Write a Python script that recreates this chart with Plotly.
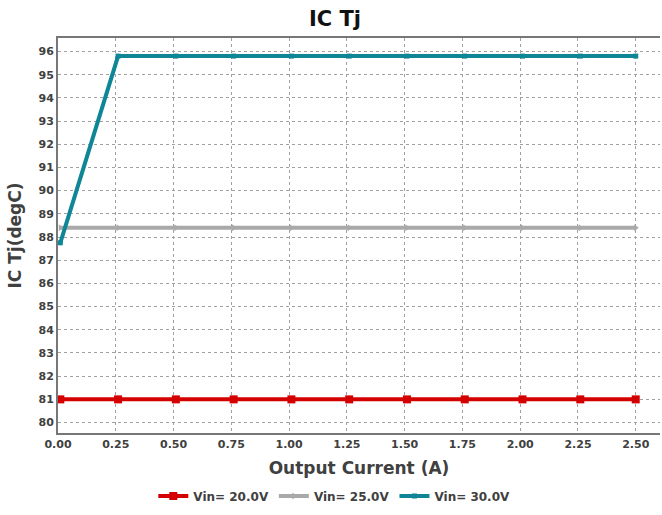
import plotly.graph_objects as go

# output current (A)
current = [0.01, 0.26, 0.51, 0.76, 1.01, 1.26, 1.51, 1.76, 2.01, 2.26, 2.50]
tj_20v = [81.0, 81.0, 81.0, 81.0, 81.0, 81.0, 81.0, 81.0, 81.0, 81.0, 81.0]
tj_25v = [88.4, 88.4, 88.4, 88.4, 88.4, 88.4, 88.4, 88.4, 88.4, 88.4, 88.4]
tj_30v = [87.75, 95.8, 95.8, 95.8, 95.8, 95.8, 95.8, 95.8, 95.8, 95.8, 95.8]

x_ticks = [0.0, 0.25, 0.5, 0.75, 1.0, 1.25, 1.5, 1.75, 2.0, 2.25, 2.5]
y_ticks = list(range(80, 97))

FONT = "DejaVu Sans, Arial, sans-serif"
TXT = "#404040"

fig = go.Figure()
fig.add_trace(go.Scatter(
    x=current, y=tj_20v, mode="lines+markers", name="Vin= 20.0V",
    line=dict(color="#d40000", width=4), marker=dict(symbol="square", size=8, color="#d40000"),
))
fig.add_trace(go.Scatter(
    x=current, y=tj_25v, mode="lines+markers", name="Vin= 25.0V",
    line=dict(color="#a9a9a9", width=4), marker=dict(symbol="triangle-right", size=6, color="#a9a9a9"),
))
fig.add_trace(go.Scatter(
    x=current, y=tj_30v, mode="lines+markers", name="Vin= 30.0V",
    line=dict(color="#0f8696", width=4), marker=dict(symbol="square", size=5, color="#0f8696"),
))

axis_common = dict(
    showline=True, linecolor="#777777", linewidth=2, automargin=False,
    showgrid=True, gridcolor="#a0a0a0", griddash="dot", gridwidth=1,
    zeroline=False, ticks="", tickfont=dict(family=FONT, size=11, color=TXT, weight="bold"),
)

fig.update_layout(
    width=662, height=515,
    margin=dict(l=58, r=2, t=38, b=82),
    paper_bgcolor="white", plot_bgcolor="white",
    title=dict(text="<b>IC Tj</b>", x=0.506, xanchor="center", y=0.964, yanchor="middle",
               font=dict(family=FONT, size=21, color="#111111")),
    xaxis=dict(range=[0, 2.605], tickvals=x_ticks, tickformat=".2f", mirror=True,
               title=dict(text="<b>Output Current (A)</b>", font=dict(family=FONT, size=17, color=TXT), standoff=12),
               **axis_common),
    yaxis=dict(range=[79.55, 96.58], tickvals=y_ticks,
               title=dict(text="<b>IC Tj(degC)</b>", font=dict(family=FONT, size=17, color=TXT), standoff=13),
               **axis_common),
    legend=dict(orientation="h", x=0.505, xanchor="center", xref="container", y=0.037, yanchor="middle",
                yref="container", font=dict(family=FONT, size=12, color=TXT, weight="bold"),
                itemwidth=30, tracegroupgap=0),
    showlegend=True,
)

# drop the default body margin so the figure fills the window exactly
fig.write_html("out.html", config={"displayModeBar": False},
               post_script="document.body.style.margin = '0';")
